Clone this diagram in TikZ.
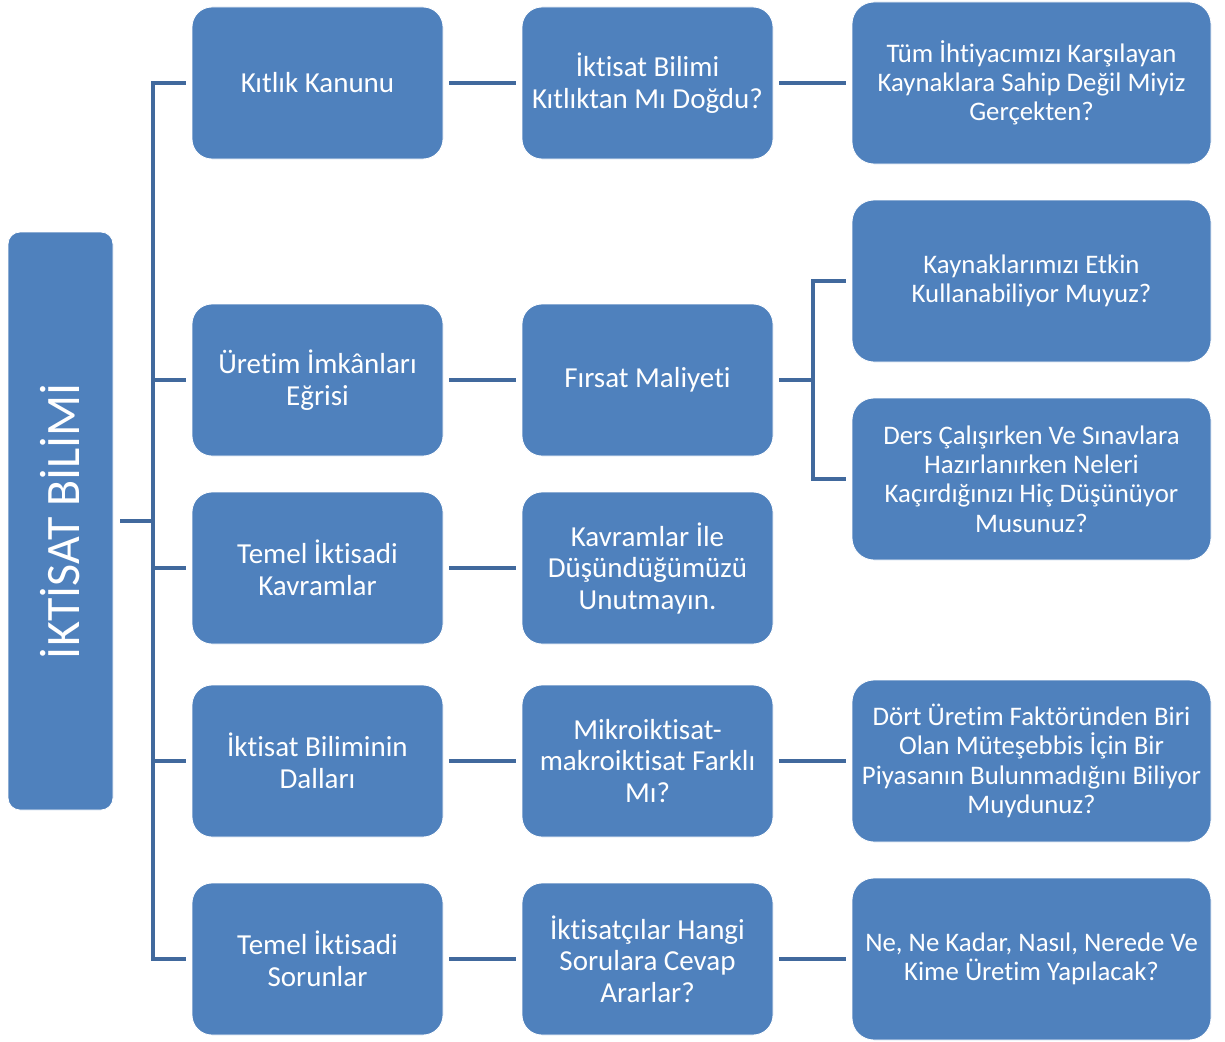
\documentclass[tikz,border=0pt]{standalone}
\usepackage{fontspec}
\setmainfont{Carlito}[Ligatures=CommonOff]
\definecolor{boxblue}{HTML}{4F81BD}
\definecolor{linkblue}{HTML}{41699D}
\begin{document}
\begin{tikzpicture}[x=1pt,y=-1pt,
  base/.style={fill=boxblue,draw=white,line width=0.8pt,text=white,align=center,inner sep=0pt},
  boxa/.style={base,rounded corners=20pt,minimum width=251pt,minimum height=152pt,font=\fontsize{29}{31.5}\selectfont},
  boxc/.style={base,rounded corners=22pt,minimum width=359pt,minimum height=162pt,font=\fontsize{26.8}{29.2}\selectfont},
  rootbox/.style={base,rounded corners=12pt,minimum width=105pt,minimum height=578pt},
  conn/.style={draw=linkblue,line width=4pt}]
\fill[white] (0,0) rectangle (1225,1041);
\useasboundingbox (0,0) rectangle (1225,1041);

\node[rootbox] (root) at (60.5,521) {};
\node[text=white,rotate=90,font=\fontsize{48}{52}\selectfont] (roottext) at (root.center) {İKTİSAT BİLİMİ};

\node[boxa] (a1) at (317.5,83) {Kıtlık Kanunu};
\node[boxa] (a2) at (317.5,380) {Üretim İmkânları\\Eğrisi};
\node[boxa] (a3) at (317.5,568) {Temel İktisadi\\Kavramlar};
\node[boxa] (a4) at (317.5,761) {İktisat Biliminin\\Dalları};
\node[boxa] (a5) at (317.5,959) {Temel İktisadi\\Sorunlar};

\node[boxa] (b1) at (647.5,83) {İktisat Bilimi\\Kıtlıktan Mı Doğdu?};
\node[boxa] (b2) at (647.5,380) {Fırsat Maliyeti};
\node[boxa] (b3) at (647.5,568) {Kavramlar İle\\Düşündüğümüzü\\Unutmayın.};
\node[boxa] (b4) at (647.5,761) {Mikroiktisat-\\makroiktisat Farklı\\Mı?};
\node[boxa] (b5) at (647.5,959) {İktisatçılar Hangi\\Sorulara Cevap\\Ararlar?};

\node[boxc] (c1) at (1031.5,83) {Tüm İhtiyacımızı Karşılayan\\Kaynaklara Sahip Değil Miyiz\\Gerçekten?};
\node[boxc] (c2) at (1031.5,281) {Kaynaklarımızı Etkin\\Kullanabiliyor Muyuz?};
\node[boxc] (c3) at (1031.5,479) {Ders Çalışırken Ve Sınavlara\\Hazırlanırken Neleri\\Kaçırdığınızı Hiç Düşünüyor\\Musunuz?};
\node[boxc] (c4) at (1031.5,761) {Dört Üretim Faktöründen Biri\\Olan Müteşebbis İçin Bir\\Piyasanın Bulunmadığını Biliyor\\Muydunuz?};
\node[boxc] (c5) at (1031.5,959) {Ne, Ne Kadar, Nasıl, Nerede Ve\\Kime Üretim Yapılacak?};

\coordinate (bus) at (153,521);
\coordinate (fm) at (813,380);

% root bus
\draw[conn] ([xshift=7pt]root.east) -- (bus);
\draw[conn] ([xshift=-6pt]a1.west) -- (bus |- a1.west) -- (bus |- a5.west) -- ([xshift=-6pt]a5.west);
\draw[conn] (bus |- a2.west) -- ([xshift=-6pt]a2.west);
\draw[conn] (bus |- a3.west) -- ([xshift=-6pt]a3.west);
\draw[conn] (bus |- a4.west) -- ([xshift=-6pt]a4.west);

% column 1 to column 2
\foreach \i in {1,...,5}{
  \draw[conn] ([xshift=6pt]a\i.east) -- ([xshift=-6pt]b\i.west);
}

% column 2 to column 3
\draw[conn] ([xshift=6pt]b1.east) -- ([xshift=-6pt]c1.west);
\draw[conn] ([xshift=6pt]b4.east) -- ([xshift=-6pt]c4.west);
\draw[conn] ([xshift=6pt]b5.east) -- ([xshift=-6pt]c5.west);
\draw[conn] ([xshift=6pt]b2.east) -- (fm);
\draw[conn] ([xshift=-6pt]c2.west) -- (fm |- c2.west) -- (fm |- c3.west) -- ([xshift=-6pt]c3.west);
\end{tikzpicture}
\end{document}
